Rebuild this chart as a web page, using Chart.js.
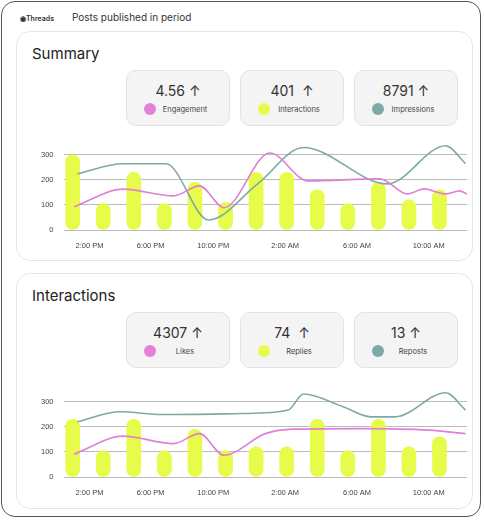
<!DOCTYPE html>
<html><head><meta charset="utf-8">
<script src="https://cdn.jsdelivr.net/npm/chart.js@4/dist/chart.umd.min.js"></script>
<style>
body{margin:0;background:#fff;font-family:Inter,"Noto Sans",sans-serif;}
.frame{position:absolute;left:1px;top:1px;width:480px;height:516px;border:1.5px solid #555;border-radius:14px;box-sizing:border-box;overflow:hidden;background:#fff}
.hdr{position:absolute;left:18px;top:9px;font-size:10px;color:#333}
.hdr b{font-size:7px;font-weight:600;margin-right:18px}
.card{position:absolute;left:14px;width:455px;border:1px solid #e6e6e6;border-radius:14px;background:#fff}
.title{position:absolute;left:15px;top:12px;font-size:15px;color:#222}
.stat{position:absolute;top:38px;width:102px;height:54px;border:1px solid #e2e2e2;border-radius:10px;background:#f4f4f4;text-align:center}
.stat .v{font-size:14px;color:#333;margin-top:11px}
.stat .l{font-size:7.5px;color:#444;margin-top:6px;position:relative;padding-left:14px}
.stat .d{position:absolute;width:12px;height:12px;border-radius:50%;left:17px;top:-2px}
.cw{position:absolute;left:14px;top:97px;width:436px;height:124px}
</style></head><body>
<div class="frame">
<div class="hdr"><b>&#9673;Threads</b>Posts published in period</div>
<div class="card" style="top:29px;height:228px">
 <div class="title">Summary</div>
 <div class="stat" style="left:109px"><div class="v">4.56 ↑</div><div class="l"><span class="d" style="background:#e580d8"></span>Engagement</div></div>
 <div class="stat" style="left:223px"><div class="v">401 &nbsp;↑</div><div class="l"><span class="d" style="background:#e6fb4a"></span>Interactions</div></div>
 <div class="stat" style="left:337px"><div class="v">8791 ↑</div><div class="l"><span class="d" style="background:#7fa8a8"></span>Impressions</div></div>
 <div class="cw"><canvas id="c1"></canvas></div>
</div>
<div class="card" style="top:271px;height:234px">
 <div class="title">Interactions</div>
 <div class="stat" style="left:109px"><div class="v">4307 ↑</div><div class="l"><span class="d" style="background:#e580d8"></span>Likes</div></div>
 <div class="stat" style="left:223px"><div class="v">74 &nbsp;↑</div><div class="l"><span class="d" style="background:#e6fb4a"></span>Replies</div></div>
 <div class="stat" style="left:337px"><div class="v">13 ↑</div><div class="l"><span class="d" style="background:#7fa8a8"></span>Reposts</div></div>
 <div class="cw" style="top:102px"><canvas id="c2"></canvas></div>
</div>
</div>
<script>
// positions along the time axis (bar slots)
const barHours=[0,2,4,6,8,10,12,14,16,18,20,22,24];
const tickHours=[1.1,5.1,9.2,13.9,18.6,23.3];
const tickLabels=["2:00 PM","6:00 PM","10:00 PM","2:00 AM","6:00 AM","10:00 AM"];
const yTicks=[0,100,200,300];

const sumBars=[300,105,230,105,190,110,230,230,160,105,190,120,160];
const sumPinkH=[0.1,3.3,6.6,8.3,9.9,12.9,15.4,20.1,21.9,23,24.4,25.3,25.8];
const sumPinkV=[93,163,136,176,89,307,196,204,144,164,144,156,144];
const sumTealH=[0.3,3.3,6.1,8.9,12.1,15.1,20.6,24.4,25.7];
const sumTealV=[224,264,264,40,184,329,184,336,265];

const intBars=[230,105,230,105,190,105,120,120,230,105,230,120,160];
const intPinkH=[0.1,3.3,6.6,8.3,9.9,12.6,14.4,18.8,23.3,25.7];
const intPinkV=[91,163,133,173,87,173,191,193,187,173];
const intTealH=[0.3,3.1,5.9,11.1,14.1,15.1,17.7,19.5,21.1,24.4,25.7];
const intTealV=[220,260,249,253,267,331,280,240,240,336,267];

const zip=(h,v)=>h.map((x,i)=>({x,y:v[i]}));
function make(id,bars,ph,pv,th,tv){
 new Chart(document.getElementById(id),{
  data:{datasets:[
   {type:'line',data:zip(th,tv),borderColor:'#7fa8a8',borderWidth:1.6,pointRadius:0,cubicInterpolationMode:'monotone',order:1},
   {type:'line',data:zip(ph,pv),borderColor:'#e07fd6',borderWidth:1.6,pointRadius:0,cubicInterpolationMode:'monotone',order:0},
   {type:'bar',data:zip(barHours,bars),backgroundColor:'#e6fb4a',barThickness:14,borderRadius:7,borderSkipped:false,order:2}
  ]},
  options:{responsive:true,maintainAspectRatio:false,animation:false,
   plugins:{legend:{display:false},tooltip:{enabled:false}},
   scales:{
    x:{type:'linear',offset:false,min:-0.6,max:25.8,grid:{display:false},border:{display:false},
      afterBuildTicks:a=>{a.ticks=tickHours.map(v=>({value:v}));},
      ticks:{callback:(v)=>tickLabels[tickHours.indexOf(v)],color:'#444',font:{size:7.5},maxRotation:0,autoSkip:false}},
    y:{min:0,max:345,grid:{color:'#bbb',lineWidth:1,drawTicks:false},border:{display:false},
      afterBuildTicks:a=>{a.ticks=yTicks.map(v=>({value:v}));},
      ticks:{color:'#444',font:{size:7.5},padding:10}}
   }}
 });
}
make('c1',sumBars,sumPinkH,sumPinkV,sumTealH,sumTealV);
make('c2',intBars,intPinkH,intPinkV,intTealH,intTealV);
</script></body></html>
